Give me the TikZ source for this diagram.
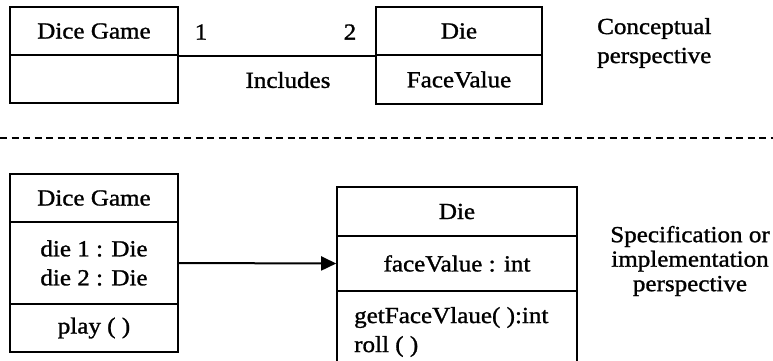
\documentclass[tikz,border=0pt]{standalone}
\usepackage{fontspec}
\setmainfont{Liberation Serif}[FakeStretch=1.09,FakeBold=1.2]
\usetikzlibrary{arrows.meta}
\tikzset{
  txt/.style={font=\fontsize{23}{29}\selectfont, inner sep=0pt, align=center},
  cell/.style={draw, line width=1.6pt, inner sep=0pt, align=center, font=\fontsize{23}{29}\selectfont},
  link/.style={line width=1.6pt},
  assoc/.style={line width=2pt, -{Triangle[length=15pt,width=14pt]}},
  sep/.style={line width=2.2pt, dash pattern=on 7pt off 4.5pt}
}
\begin{document}
\begin{tikzpicture}[x=1pt,y=-1pt]
\clip (0,0) rectangle (773,360);
\fill[white] (0,0) rectangle (773,360);
% ---------- conceptual perspective ----------
\node[cell, minimum width=168pt, minimum height=48pt] (dgT) at (94,31) {Dice Game};
\node[cell, minimum width=168pt, minimum height=48pt] (dgB) at (94,79) {};
\node[cell, minimum width=166pt, minimum height=48pt] (dieT) at (459,31) {Die};
\node[cell, minimum width=166pt, minimum height=49pt] (dieB) at (459,79.5) {FaceValue};
\draw[link] (dgT.south east) -- (dieT.south west);
\node[txt] (m1) at (201,32) {1};
\node[txt] (m2) at (350,32) {2};
\node[txt] (inc) at (288,80) {Includes};
\node[txt, align=left, anchor=west] (concept) at (597,43) {Conceptual\\perspective};
% ---------- separator ----------
\coordinate (sepL) at (0,138);
\coordinate (sepR) at (773,138);
\draw[sep] (sepL) -- (sepR);
% ---------- specification perspective ----------
\node[cell, minimum width=168pt, minimum height=48pt] (gName) at (94,198) {Dice Game};
\node[cell, minimum width=168pt, minimum height=82pt] (gAttr) at (94,263) {die 1 : Die\\die 2 : Die};
\node[cell, minimum width=168pt, minimum height=48pt] (gOps) at (94,328) {play ( )};
\node[cell, minimum width=240pt, minimum height=49pt] (dName) at (457,211.5) {Die};
\node[cell, minimum width=240pt, minimum height=55pt] (dAttr) at (457,263.5) {faceValue : int};
\node[cell, minimum width=240pt, minimum height=73pt] (dOps) at (457,327.5) {};
\node[txt, align=left, anchor=west] (dOpsText) at (354,332) {getFaceVlaue( ):int\\roll ( )};
\draw[assoc] (gAttr.east) -- (dAttr.west);
\node[txt, font=\fontsize{23}{24.5}\selectfont] (spec) at (690,261) {Specification or\\implementation\\perspective};
\end{tikzpicture}
\end{document}
